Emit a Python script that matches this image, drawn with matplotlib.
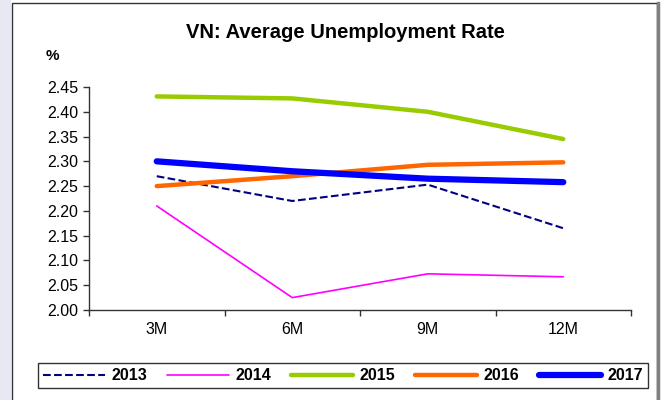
import matplotlib.pyplot as plt
from matplotlib.patches import Rectangle
from matplotlib.lines import Line2D

plt.rcParams['font.family'] = ['Liberation Sans', 'DejaVu Sans']

periods = ["3M", "6M", "9M", "12M"]
years = ["2013", "2014", "2015", "2016", "2017"]
rate_2013 = [2.27, 2.22, 2.253, 2.165]
rate_2014 = [2.21, 2.025, 2.073, 2.067]
rate_2015 = [2.431, 2.427, 2.40, 2.345]
rate_2016 = [2.25, 2.27, 2.293, 2.298]
rate_2017 = [2.30, 2.28, 2.265, 2.258]
yticks = [2.00, 2.05, 2.10, 2.15, 2.20, 2.25, 2.30, 2.35, 2.40, 2.45]

series = [rate_2013, rate_2014, rate_2015, rate_2016, rate_2017]
colors = ['#000080', '#ff00ff', '#99cc00', '#ff6600', '#0000ff']
widths = [1.5, 1.2, 3.2, 3.2, 4.5]
styles = ['--', '-', '-', '-', '-']

fig = plt.figure(figsize=(6.65, 4.0), dpi=100)
fig.patch.set_facecolor('white')

# faint background strip and chart frame
fig.add_artist(Rectangle((0, 0), 11 / 665, 1, transform=fig.transFigure,
                         facecolor='#e8e8f2', edgecolor='none', zorder=0))
fig.add_artist(Rectangle((12 / 665, -0.01), 645 / 665, 1 - 3 / 400 + 0.01,
                         transform=fig.transFigure, facecolor='white',
                         edgecolor='#333333', linewidth=1.0, zorder=0))
fig.add_artist(Line2D([658 / 665, 658 / 665], [0, 1 - 3 / 400],
                      transform=fig.transFigure, color='#808080',
                      linewidth=2.5, zorder=1))

ax = fig.add_axes([89 / 665, 1 - 310 / 400, 542 / 665, 223 / 400])
ax.set_facecolor('none')
x = [0.5, 1.5, 2.5, 3.5]
for vals, c, w, s, lab in zip(series, colors, widths, styles, years):
    ax.plot(x, vals, color=c, linewidth=w, linestyle=s, label=lab,
            solid_capstyle='round', dash_capstyle='butt')

ax.set_xlim(0, 4)
ax.set_ylim(2.0, 2.45)
ax.set_yticks(yticks)
ax.set_yticklabels([f"{v:.2f}" for v in yticks])
ax.set_xticks([0, 1, 2, 3, 4])
ax.set_xticklabels([])
ax.set_xticks(x, minor=True)
ax.set_xticklabels(periods, minor=True)
ax.tick_params(axis='x', which='minor', length=0, pad=9, labelsize=11.5)
ax.tick_params(axis='x', which='major', length=4, width=1, color='#333333')
ax.tick_params(axis='y', length=4, width=1, color='#333333', labelsize=11.5, pad=4)
for side in ['top', 'right']:
    ax.spines[side].set_visible(False)
for side in ['left', 'bottom']:
    ax.spines[side].set_color('#333333')
    ax.spines[side].set_linewidth(1)

fig.text(0.52, 1 - 33 / 400, "VN: Average Unemployment Rate",
         ha='center', va='center', fontsize=14.5, fontweight='bold')
fig.text(52 / 665, 1 - 56 / 400, "%", ha='center', va='center',
         fontsize=11, fontweight='bold')

leg = fig.legend(loc='lower left', ncol=5, mode='expand',
                 bbox_to_anchor=(38 / 665, 12 / 400, 610 / 665, 25 / 400),
                 bbox_transform=fig.transFigure, frameon=True, fancybox=False,
                 edgecolor='black', handlelength=3.9, handletextpad=0.4,
                 borderaxespad=0, borderpad=0.3, columnspacing=0.8,
                 prop={'weight': 'bold', 'size': 11.5})
leg.get_frame().set_linewidth(1.0)

plt.savefig("out.png", dpi=100)
